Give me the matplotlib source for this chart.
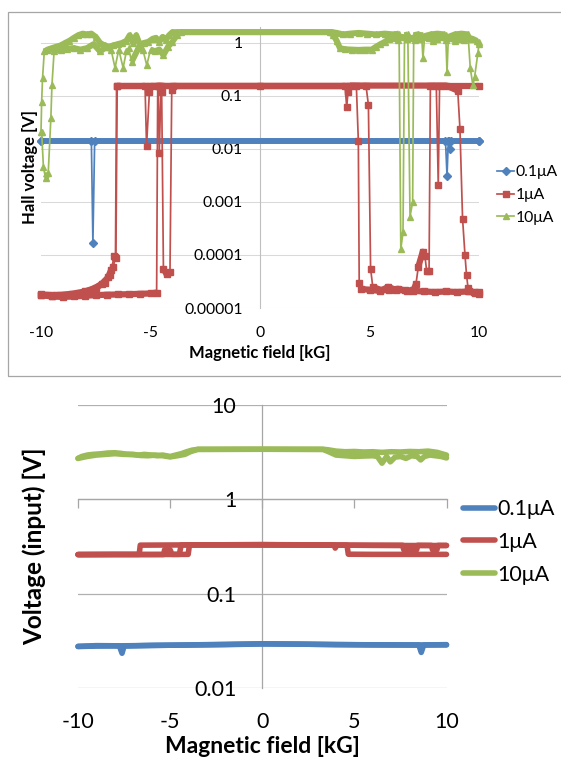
import numpy as np
import matplotlib
matplotlib.use("Agg")
import matplotlib.pyplot as plt
from matplotlib.lines import Line2D
from matplotlib.patches import Rectangle

plt.rcParams['font.family'] = ['Lato', 'DejaVu Sans']

# ---------------- data ----------------
SERIES_LABELS = ["0.1μA", "1μA", "10μA"]
X_TICKS = [-10, -5, 0, 5, 10]
X_TICKLABELS = ["-10", "-5", "0", "5", "10"]
HALL_YTICKS = [1e-5, 1e-4, 1e-3, 1e-2, 1e-1, 1]
HALL_YTICKLABELS = ["0.00001", "0.0001", "0.001", "0.01", "0.1", "1"]
INPUT_YTICKS = [0.01, 0.1, 1, 10]
INPUT_YTICKLABELS = ["0.01", "0.1", "1", "10"]
X_LABEL = "Magnetic field [kG]"
HALL_YLABEL = "Hall voltage [V]"
INPUT_YLABEL = "Voltage (input) [V]"

# Hall voltage, 0.1 uA (two sweeps)
hall_01a_x = [-10.0, -7.70, -7.63, -7.55, 8.47, 8.54, 8.60, 10.0]
hall_01a_y = [0.0144, 0.0144, 1.7e-4, 0.0144, 0.0144, 0.0031, 0.0144, 0.0144]
hall_01b_x = [10.0, 8.72, 8.67, 8.62, -10.0]
hall_01b_y = [0.0144, 0.0144, 0.0098, 0.0144, 0.0144]

# Hall voltage, 1 uA (three sweeps)
hall_1a_x = [-10.0, -9.5, -9.0, -8.5, -8.0, -7.5, -7.0, -6.5, -6.0, -5.5, -5.0, -4.72,
             -4.67, 0.0, 4.40, 4.49, 4.53, 4.60, 5.0, 5.5, 5.85, 6.2, 6.6, 7.0, 7.5,
             8.0, 8.5, 9.0, 9.5, 9.8, 10.0]
hall_1a_y = [1.75e-5, 1.65e-5, 1.62e-5, 1.65e-5, 1.70e-5, 1.75e-5, 1.78e-5, 1.80e-5,
             1.82e-5, 1.85e-5, 1.88e-5, 1.95e-5, 0.157, 0.157, 0.157, 0.0142, 3.0e-5,
             2.3e-5, 2.2e-5, 2.1e-5, 2.5e-5, 2.2e-5, 2.15e-5, 2.1e-5, 2.05e-5, 2.0e-5,
             2.05e-5, 2.0e-5, 2.05e-5, 1.95e-5, 1.8e-5]
hall_1b_x = [10.0, 9.75, 9.55, 9.50, 9.43, 9.36, 9.25, 9.13, 9.03, 8.5, 4.10, 4.02,
             3.96, 3.88, -3.98, -4.03, -4.11, -4.26, -4.41, -4.49, -4.55, -6.52, -6.58,
             -6.65, -6.80, -6.93, -7.23, -7.60, -8.20, -9.0, -9.5, -10.0]
hall_1b_y = [2.0e-5, 2.0e-5, 2.1e-5, 2.4e-5, 4.2e-5, 1.0e-4, 4.8e-4, 0.024, 0.126,
             0.157, 0.157, 0.12, 0.062, 0.157, 0.157, 0.13, 4.8e-5, 4.3e-5, 5.5e-5,
             0.12, 0.157, 0.157, 8.8e-5, 9.5e-5, 5.2e-5, 3.8e-5, 2.85e-5, 2.3e-5,
             1.86e-5, 1.72e-5, 1.7e-5, 1.75e-5]
hall_1c_x = [-10.0, -9.3, -8.6, -8.0, -7.5, -7.1, -6.85, -6.7, -6.6, -6.55, -5.25,
             -5.18, -5.05, -4.98, -4.65, -4.60, -4.52, 4.84, 4.95, 5.05, 5.15, 5.5,
             5.9, 6.3, 6.7, 7.0, 7.12, 7.23, 7.43, 7.53, 7.61, 7.72, 7.78, 8.05, 8.14,
             8.20, 10.0]
hall_1c_y = [1.8e-5, 1.75e-5, 1.85e-5, 2.05e-5, 2.4e-5, 3.0e-5, 4.2e-5, 6.0e-5, 9.0e-5,
             0.157, 0.157, 0.0114, 0.12, 0.157, 0.157, 0.0085, 0.157, 0.157, 0.068,
             5.5e-5, 2.5e-5, 2.2e-5, 2.15e-5, 2.3e-5, 2.1e-5, 2.15e-5, 2.8e-5, 6.0e-5,
             1.15e-4, 9.6e-5, 5.0e-5, 4.9e-5, 0.157, 0.157, 0.0021, 0.157, 0.157]

# Hall voltage, 10 uA (two sweeps)
hall_10a_x = [-10.0, -9.97, -9.93, -9.85, -9.7, -9.5, -9.3, -9.1, -8.9, -8.7, -8.5,
              -8.3, -8.1, -7.9, -7.7, -7.5, -7.3, -7.1, -6.9, -6.7, -6.5, -6.3, -6.1,
              -5.95, -5.8, -5.65, -5.5, -5.3, -5.1, -4.9, -4.75, -4.6, -4.45, -4.3,
              -4.15, -4.0, -3.8, 3.3, 3.5, 3.8, 4.1, 4.5, 4.9, 5.3, 5.7, 6.1, 6.35,
              6.43, 6.53, 6.6, 6.75, 6.85, 6.97, 7.02, 7.2, 7.38, 7.44, 7.52, 7.8,
              8.1, 8.4, 8.48, 8.54, 8.6, 8.9, 9.2, 9.5, 9.6, 9.72, 9.8, 9.95, 10.0]
hall_10a_y = [0.021, 0.078, 0.216, 0.69, 0.75, 0.8, 0.85, 0.9, 1.0, 1.1, 1.25, 1.4,
              1.5, 1.45, 1.5, 1.3, 1.0, 0.9, 0.85, 0.9, 0.95, 1.0, 1.1, 1.4, 1.0,
              1.4, 0.95, 1.0, 1.05, 1.2, 1.25, 1.05, 1.3, 1.15, 1.4, 1.6, 1.6, 1.6,
              1.55, 1.45, 1.5, 1.55, 1.5, 1.45, 1.5, 1.45, 1.5, 1.3e-4, 2.7e-4, 1.4,
              1.45, 5.3e-4, 1.0e-3, 1.4, 1.45, 1.4, 0.52, 1.35, 1.45, 1.5, 1.45, 1.4,
              0.28, 1.3, 1.45, 1.5, 1.45, 0.34, 0.16, 0.23, 0.65, 0.95]
hall_10b_x = [10.0, 9.9, 9.7, 9.5, 9.3, 9.1, 8.9, 8.7, 8.5, 8.3, 8.1, 7.9, 7.7, 7.5,
              7.3, 7.1, 6.9, 6.7, 6.5, 6.3, 6.1, 5.9, 5.7, 5.5, 5.3, 5.1, 4.8, 4.5,
              4.2, 3.9, 3.65, 3.5, 3.35, 3.2, -3.6, -3.8, -4.0, -4.2, -4.41, -4.6,
              -4.8, -5.0, -5.17, -5.35, -5.55, -5.86, -6.0, -6.1, -6.25, -6.45, -6.62,
              -6.8, -7.0, -7.3, -7.6, -7.9, -8.2, -8.5, -8.8, -9.1, -9.4, -9.5, -9.55,
              -9.67, -9.79, -9.89, -9.97]
hall_10b_y = [1.05, 1.1, 1.2, 1.25, 1.15, 1.2, 1.1, 1.25, 1.15, 1.3, 1.2, 1.1, 1.25,
              1.3, 1.2, 1.15, 1.25, 1.2, 1.3, 1.15, 1.25, 1.2, 1.05, 0.95, 0.85, 0.75,
              0.75, 0.74, 0.75, 0.76, 0.8, 1.1, 1.4, 1.6, 1.6, 1.4, 1.05, 0.85, 0.59,
              0.75, 0.7, 0.75, 0.38, 0.75, 0.8, 0.44, 0.8, 0.7, 0.34, 0.75, 0.34, 0.75,
              0.85, 0.69, 0.95, 0.8, 0.75, 0.8, 0.78, 0.75, 0.72, 0.16, 0.038, 0.0035,
              0.0028, 0.0046, 0.021]

# Input voltage, 0.1 uA
input_01a_x = [-10, -9, -8, -7.75, -7.61, -7.5, -6, -4, -2, 0, 2, 4, 6, 8, 10]
input_01a_y = [0.0278, 0.0283, 0.0282, 0.0280, 0.0235, 0.0280, 0.0285, 0.0287, 0.0290,
               0.0295, 0.0294, 0.0290, 0.0289, 0.0288, 0.0288]
input_01b_x = [10, 9, 8.76, 8.63, 8.5, 6, 3, 0, -3, -6, -9, -10]
input_01b_y = [0.0290, 0.0288, 0.0287, 0.0240, 0.0287, 0.0288, 0.0292, 0.0296, 0.0290,
               0.0284, 0.0280, 0.0277]

# Input voltage, 1 uA
input_1a_x = [-10, -8, -6.68, -6.62, -4, 0, 3.9, 3.96, 4.05, 4.6, 4.67, 6, 8, 10]
input_1a_y = [0.261, 0.262, 0.262, 0.328, 0.330, 0.332, 0.330, 0.305, 0.328, 0.328,
              0.263, 0.262, 0.262, 0.262]
input_1b_x = [10, 8, 6, 4.5, 2, 0, -2, -3.95, -4.02, -6, -8, -10]
input_1b_y = [0.325, 0.325, 0.326, 0.328, 0.330, 0.332, 0.331, 0.330, 0.262, 0.261,
              0.261, 0.260]
input_1c_x = [-10, -5.35, -5.30, -5.0, -4.9, -4.5, -4.4, 7.62, 7.68, 8.38, 8.44, 9.18,
              9.24, 9.48, 9.54, 10]
input_1c_y = [0.261, 0.261, 0.293, 0.293, 0.262, 0.262, 0.330, 0.327, 0.293, 0.293,
              0.327, 0.326, 0.293, 0.293, 0.326, 0.326]

# Input voltage, 10 uA
input_10a_x = [-10, -9.8, -9.5, -9.2, -9, -8.7, -8.4, -8, -7.7, -7.4, -7, -6.7, -6.4, -6,
               -5.7, -5.4, -5, -4.7, -4.4, -4.1, -3.8, -3.5, 0, 3.3, 3.6, 4, 4.5, 5, 5.5,
               6, 6.5, 7, 7.5, 8, 8.5, 9, 9.5, 10]
input_10a_y = [2.72, 2.85, 2.95, 3.0, 3.02, 3.05, 3.1, 3.12, 3.08, 3.02, 3.0, 2.95, 3.0,
               2.95, 2.9, 2.95, 2.85, 2.95, 3.05, 3.2, 3.33, 3.39, 3.40, 3.40, 3.35, 3.25,
               3.2, 3.22, 3.18, 3.2, 3.15, 3.2, 3.18, 3.22, 3.2, 3.25, 3.15, 2.95]
input_10b_x = [10, 9.7, 9.4, 9.1, 8.8, 8.6, 8.4, 8.1, 7.8, 7.5, 7.2, 6.95, 6.75, 6.5,
               6.25, 6.0, 5.5, 5.0, 4.5, 4.0, 3.6, 3.3, 0, -3.5, -3.9, -4.2, -4.6, -5,
               -5.4, -5.8, -6.2, -6.6, -7, -7.5, -8, -8.5, -9, -9.5, -10]
input_10b_y = [2.75, 2.85, 2.9, 2.95, 2.85, 2.62, 2.85, 2.9, 2.72, 2.85, 2.8, 2.5, 2.85,
               2.42, 2.85, 2.9, 2.88, 2.85, 2.9, 2.95, 3.2, 3.38, 3.40, 3.39, 3.2, 3.0,
               2.9, 2.82, 2.9, 2.95, 2.9, 2.92, 2.98, 3.0, 3.05, 3.0, 2.95, 2.85, 2.72]

# ---------------- style ----------------
BLUE, RED, GREEN = "#4F81BD", "#C0504D", "#9BBB59"
W, H = 561, 759
fig = plt.figure(figsize=(W / 100, H / 100), dpi=100)
fig.patch.set_facecolor("white")


def px(x0, y0, x1, y1):
    return [x0 / W, 1 - y1 / H, (x1 - x0) / W, (y1 - y0) / H]


def draw_sweep(ax, xs, ys, color, marker, ms, thick, z):
    xs = np.asarray(xs, float)
    ys = np.asarray(ys, float)
    ly = np.log10(ys)
    dx = np.abs(np.diff(xs))
    dl = np.abs(np.diff(ly))
    dense = (dx >= 0.1) & (dl <= 1.5 * dx)
    ax.plot(xs, ys, color=color, lw=1.25, zorder=z, clip_on=False)
    n = len(dense)
    i = 0
    while i < n:
        if dense[i]:
            j = i
            while j < n and dense[j]:
                j += 1
            ax.plot(xs[i:j + 1], ys[i:j + 1], color=color, lw=thick, zorder=z,
                    solid_joinstyle="round", solid_capstyle="butt", clip_on=False)
            i = j
        else:
            i += 1
    ax.plot(xs, ys, ls="none", marker=marker, ms=ms, color=color, mec=color,
            zorder=z + 0.5, clip_on=False)


# ---------------- top: Hall voltage ----------------
fig.patches.append(Rectangle((8 / W, 1 - 376 / H), (W + 20) / W, (376 - 12) / H,
                             transform=fig.transFigure, fill=False, ec="#A6A6A6",
                             lw=0.9, zorder=0))

ax1 = fig.add_axes(px(41, 27, 479, 308))
ax1.set_yscale("log")
ax1.set_xlim(-10, 10)
ax1.set_ylim(1e-5, 2.0)
for s in ("top", "right", "bottom"):
    ax1.spines[s].set_visible(False)
ax1.spines["left"].set_position(("data", 0))
ax1.spines["left"].set_color("#BFBFBF")
ax1.spines["left"].set_linewidth(0.8)
ax1.set_yticks(HALL_YTICKS)
ax1.set_yticklabels(HALL_YTICKLABELS)
ax1.yaxis.set_minor_locator(matplotlib.ticker.NullLocator())
ax1.set_xticks(X_TICKS)
ax1.set_xticklabels(X_TICKLABELS)
ax1.tick_params(axis="y", length=0, pad=12.3, labelsize=11.3, colors="black")
ax1.tick_params(axis="x", length=0, pad=13, labelsize=11.3)
ax1.yaxis.grid(True, color="#D9D9D9", lw=0.75)
ax1.set_axisbelow(True)
ax1.set_xlabel(X_LABEL, fontsize=12, fontweight="bold")
ax1.xaxis.set_label_coords(0.5, (308 - 358) / 281)
ax1.xaxis.label.set_va("baseline")
ax1.set_ylabel(HALL_YLABEL, fontsize=12, fontweight="bold")
ax1.yaxis.set_label_coords((30 - 41) / 438, 0.5)
ax1.yaxis.label.set_va("center")

draw_sweep(ax1, hall_01a_x, hall_01a_y, BLUE, "D", 4.2, 4.1, 3)
draw_sweep(ax1, hall_01b_x, hall_01b_y, BLUE, "D", 4.2, 4.1, 3)
draw_sweep(ax1, hall_1a_x, hall_1a_y, RED, "s", 4.6, 4.5, 4)
draw_sweep(ax1, hall_1b_x, hall_1b_y, RED, "s", 4.6, 4.5, 4)
draw_sweep(ax1, hall_1c_x, hall_1c_y, RED, "s", 4.6, 4.5, 4)
draw_sweep(ax1, hall_10a_x, hall_10a_y, GREEN, "^", 5.0, 4.3, 5)
draw_sweep(ax1, hall_10b_x, hall_10b_y, GREEN, "^", 5.0, 4.3, 5)

h1 = [Line2D([], [], color=c, lw=1.25, marker=m, ms=ms, mec=c)
      for c, m, ms in ((BLUE, "D", 4.2), (RED, "s", 4.6), (GREEN, "^", 5.0))]
ax1.legend(h1, SERIES_LABELS, loc="center left", bbox_to_anchor=(497 / W, 1 - 195 / H),
           bbox_transform=fig.transFigure, frameon=False, fontsize=11.3,
           handlelength=1.1, handletextpad=0.1, labelspacing=0.55, borderpad=0,
           borderaxespad=0)

# ---------------- bottom: input voltage ----------------
ax2 = fig.add_axes(px(78, 405, 446.5, 688.3))
ax2.set_yscale("log")
ax2.set_xlim(-10, 10)
ax2.set_ylim(0.01, 10)
for s in ("top", "right"):
    ax2.spines[s].set_visible(False)
ax2.spines["left"].set_position(("data", 0))
ax2.spines["left"].set_color("#A6A6A6")
ax2.spines["bottom"].set_position(("data", 1))
ax2.spines["bottom"].set_color("#A6A6A6")
ax2.spines["left"].set_linewidth(0.9)
ax2.spines["bottom"].set_linewidth(0.9)
ax2.set_yticks(INPUT_YTICKS)
ax2.set_yticklabels(INPUT_YTICKLABELS)
ax2.yaxis.set_minor_locator(matplotlib.ticker.NullLocator())
ax2.tick_params(axis="y", length=0, pad=18.7, labelsize=15.5)
ax2.set_xticks(X_TICKS)
ax2.tick_params(axis="x", direction="out", length=6.5, width=0.9, color="#A6A6A6",
                labelbottom=False)
ax2.yaxis.grid(True, color="#B0B0B0", lw=0.9)
ax2.set_axisbelow(True)
sec = ax2.secondary_xaxis(0.0)
sec.set_xticks(X_TICKS)
sec.set_xticklabels(X_TICKLABELS)
sec.tick_params(length=0, pad=17, labelsize=15.5)
sec.spines["bottom"].set_visible(False)
ax2.set_ylabel(INPUT_YLABEL, fontsize=17.5, fontweight="bold")
ax2.yaxis.set_label_coords((34 - 78) / 368.5, 0.5)
ax2.yaxis.label.set_va("center")
fig.text(262 / W, 1 - 753 / H, X_LABEL, fontsize=16.5, fontweight="bold",
         ha="center", va="baseline")

LW2 = 4.0
for xs, ys, c in ((input_01a_x, input_01a_y, BLUE), (input_01b_x, input_01b_y, BLUE),
                  (input_1a_x, input_1a_y, RED), (input_1b_x, input_1b_y, RED),
                  (input_1c_x, input_1c_y, RED),
                  (input_10a_x, input_10a_y, GREEN), (input_10b_x, input_10b_y, GREEN)):
    ax2.plot(xs, ys, color=c, lw=LW2, solid_capstyle="round", solid_joinstyle="round",
             clip_on=False, zorder=3)

h2 = [Line2D([], [], color=c, lw=LW2, solid_capstyle="round") for c in (BLUE, RED, GREEN)]
ax2.legend(h2, SERIES_LABELS, loc="center left", bbox_to_anchor=(463 / W, 1 - 542 / H),
           bbox_transform=fig.transFigure, frameon=False, fontsize=15.5,
           handlelength=1.5, handletextpad=0.1, labelspacing=0.6, borderpad=0,
           borderaxespad=0)

fig.savefig("out.png", dpi=100, facecolor="white")
